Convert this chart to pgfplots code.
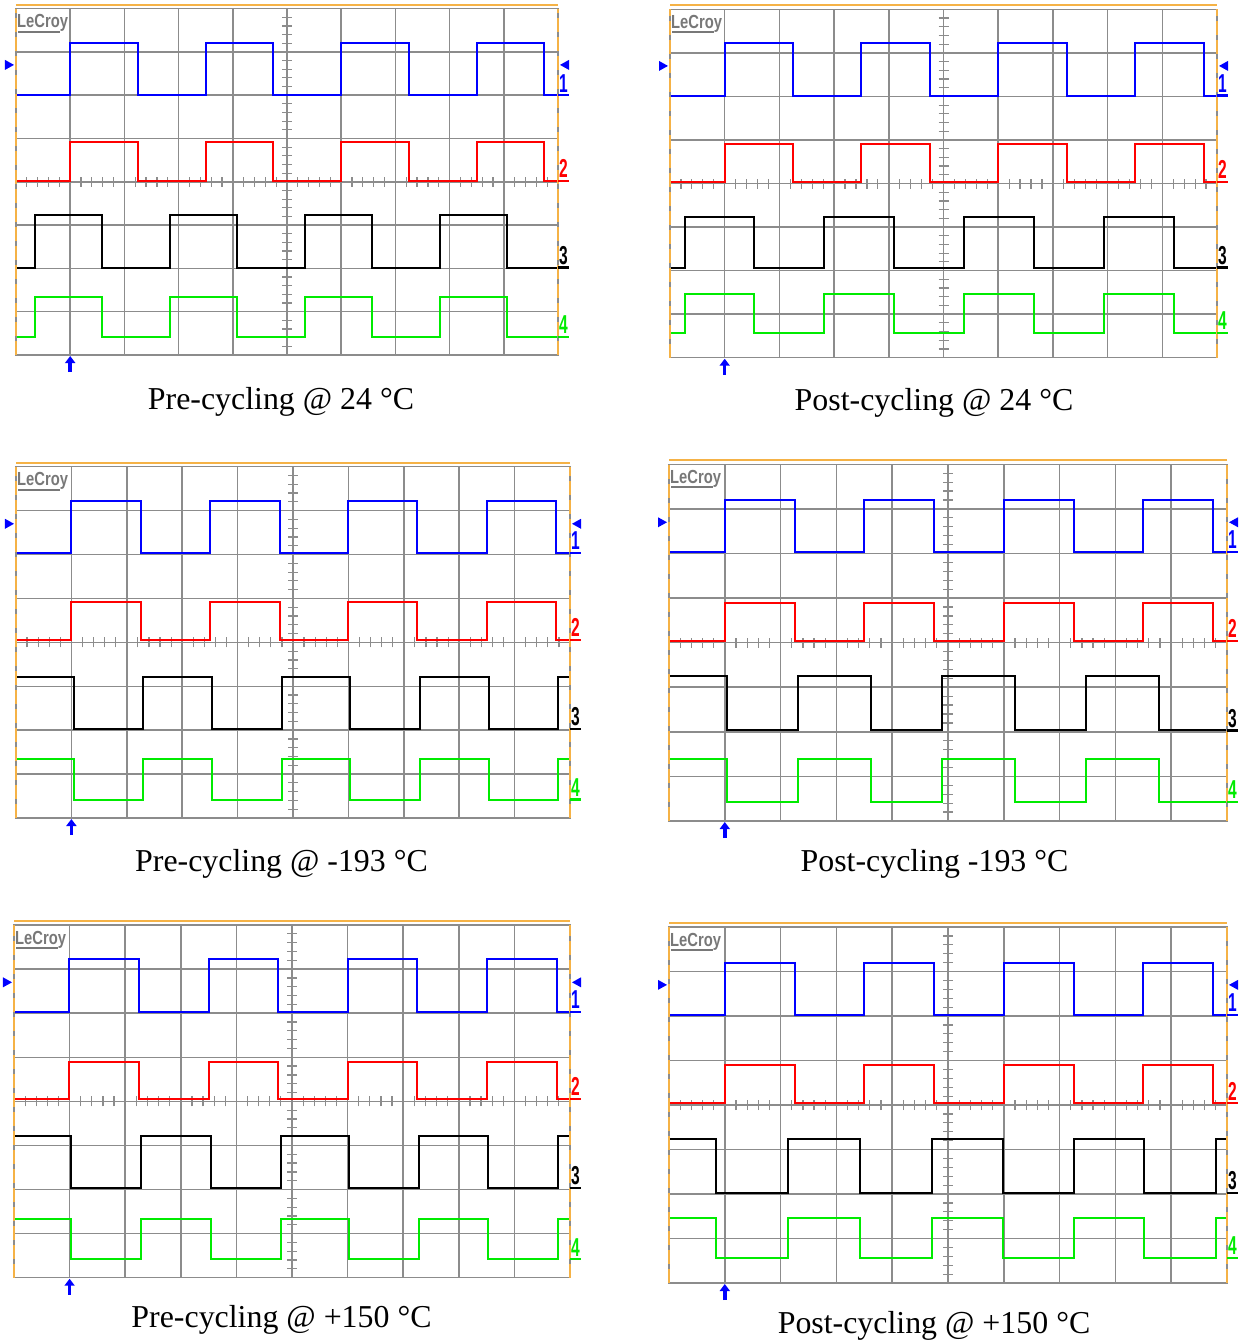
\documentclass[border=0pt]{standalone}
\usepackage{fontspec}
\setmainfont{Liberation Serif}
\newfontfamily\scopefont{Liberation Sans}
\usepackage{pgfplots}
\pgfplotsset{compat=1.18}
\usetikzlibrary{arrows.meta}

\definecolor{gridgray}{RGB}{140,140,140}
\definecolor{logogray}{RGB}{120,120,120}
\definecolor{edgeorange}{RGB}{245,178,70}
\definecolor{chblue}{RGB}{0,0,255}
\definecolor{chred}{RGB}{255,0,0}
\definecolor{chgreen}{RGB}{0,235,0}

\pgfplotsset{
  scope/.style={
    scale only axis, clip=false, anchor=south west,
    xmin=-5, xmax=5, ymin=-4, ymax=4,
    axis lines=center,
    axis line style={draw=gridgray, line width=1.5bp, -},
    inner axis line style={-},
    xtick={-5,-4.8,...,5.01}, ytick={-4,-3.8,...,4.01},
    minor xtick={-4,-3,...,4}, minor ytick={-3,-2,...,3},
    grid=minor, minor grid style={draw=gridgray, line width=1.5bp},
    major tick length=10bp, minor tick length=0pt,
    tick align=center, tick style={draw=gridgray, line width=1.2bp},
    xticklabels={}, yticklabels={},
  },
  trace/.style={const plot, line width=2bp, mark=none},
}

% frame, logo, channel markers and trigger arrow of one screen
% #1..#4: ground levels of channels 1..4
\newcommand{\scopedeco}[4]{%
  \draw[gridgray, line width=1.5bp] (axis cs:-5,-4) rectangle (axis cs:5,4);
  \draw[edgeorange, line width=1.6bp, dash pattern=on 14bp off 5bp] (axis cs:-5,-4) -- (axis cs:-5,4);
  \draw[edgeorange, line width=1.6bp, dash pattern=on 14bp off 5bp] (axis cs:5,-4) -- (axis cs:5,4);
  \draw[edgeorange, line width=2bp] ([yshift=4bp]axis cs:-5,4) -- ([yshift=4bp]axis cs:5,4);
  \node[anchor=base west, inner sep=0pt, text=logogray, xscale=0.78]
    at ([xshift=1bp,yshift=-19bp]axis cs:-5,4) {\scopefont\bfseries\fontsize{19}{19}\selectfont LeCroy};
  \draw[logogray, line width=2.2bp] ([xshift=2bp,yshift=-23bp]axis cs:-5,4) -- ([xshift=44bp,yshift=-23bp]axis cs:-5,4);
  \fill[chblue] ([xshift=-11bp,yshift=5bp]axis cs:-5,2.7) -- ++(9bp,-5bp) -- ++(-9bp,-5bp) -- cycle;
  \fill[chblue] ([xshift=11bp,yshift=5bp]axis cs:5,2.7) -- ++(-9bp,-5bp) -- ++(9bp,-5bp) -- cycle;
  \draw[chblue, line width=2.2bp] (axis cs:5,#1) -- ([xshift=11bp]axis cs:5,#1);
  \draw[chred, line width=2.2bp] (axis cs:5,#2) -- ([xshift=11bp]axis cs:5,#2);
  \draw[black, line width=2.2bp] (axis cs:5,#3) -- ([xshift=11bp]axis cs:5,#3);
  \draw[chgreen, line width=2.2bp] (axis cs:5,#4) -- ([xshift=11bp]axis cs:5,#4);
  \node[anchor=south west, inner sep=0pt, text=chblue, xscale=0.6]
    at ([xshift=1bp,yshift=3bp]axis cs:5,#1) {\scopefont\bfseries\fontsize{26}{26}\selectfont 1};
  \node[anchor=south west, inner sep=0pt, text=chred, xscale=0.6]
    at ([xshift=1bp,yshift=3bp]axis cs:5,#2) {\scopefont\bfseries\fontsize{26}{26}\selectfont 2};
  \node[anchor=south west, inner sep=0pt, text=black, xscale=0.6]
    at ([xshift=1bp,yshift=3bp]axis cs:5,#3) {\scopefont\bfseries\fontsize{26}{26}\selectfont 3};
  \node[anchor=south west, inner sep=0pt, text=chgreen, xscale=0.6]
    at ([xshift=1bp,yshift=3bp]axis cs:5,#4) {\scopefont\bfseries\fontsize{26}{26}\selectfont 4};
  \draw[chblue, line width=3.5bp, -{Triangle[length=7bp,width=10bp]}]
    ([yshift=-17bp]axis cs:-4,-4) -- ([yshift=-1bp]axis cs:-4,-4);
}

\begin{document}
\begin{tikzpicture}
\useasboundingbox (0,0) rectangle (1243bp,-1341bp);

% Pre-cycling @ 24 C
\begin{axis}[scope, at={(16bp,-355bp)}, width=542bp, height=346.4bp]
\addplot[trace, chblue] coordinates {(-5,2.0)(-4,3.2)(-2.75,2.0)(-1.5,3.2)(-0.25,2.0)(1,3.2)(2.25,2.0)(3.5,3.2)(4.75,2.0)(5,2.0)};
\addplot[trace, chred] coordinates {(-5,0.02)(-4,0.92)(-2.75,0.02)(-1.5,0.92)(-0.25,0.02)(1,0.92)(2.25,0.02)(3.5,0.92)(4.75,0.02)(5,0.02)};
\addplot[trace, black] coordinates {(-5,-1.98)(-4.65,-0.77)(-3.41,-1.98)(-2.16,-0.77)(-0.92,-1.98)(0.33,-0.77)(1.57,-1.98)(2.82,-0.77)(4.06,-1.98)(5,-1.98)};
\addplot[trace, chgreen] coordinates {(-5,-3.58)(-4.65,-2.65)(-3.41,-3.58)(-2.16,-2.65)(-0.92,-3.58)(0.33,-2.65)(1.57,-3.58)(2.82,-2.65)(4.06,-3.58)(5,-3.58)};
\scopedeco{2.0}{0.02}{-1.98}{-3.58}
\end{axis}

% Post-cycling @ 24 C
\begin{axis}[scope, at={(670bp,-357.7bp)}, width=547bp, height=348.4bp]
\addplot[trace, chblue] coordinates {(-5,2.02)(-4,3.22)(-2.75,2.02)(-1.5,3.22)(-0.24,2.02)(1,3.22)(2.26,2.02)(3.5,3.22)(4.76,2.02)(5,2.02)};
\addplot[trace, chred] coordinates {(-5,0.04)(-4,0.91)(-2.75,0.04)(-1.5,0.91)(-0.24,0.04)(1,0.91)(2.26,0.04)(3.5,0.91)(4.76,0.04)(5,0.04)};
\addplot[trace, black] coordinates {(-5,-1.93)(-4.73,-0.76)(-3.46,-1.93)(-2.18,-0.76)(-0.90,-1.93)(0.38,-0.76)(1.65,-1.93)(2.94,-0.76)(4.22,-1.93)(5,-1.93)};
\addplot[trace, chgreen] coordinates {(-5,-3.43)(-4.73,-2.54)(-3.46,-3.43)(-2.18,-2.54)(-0.90,-3.43)(0.38,-2.54)(1.65,-3.43)(2.94,-2.54)(4.22,-3.43)(5,-3.43)};
\scopedeco{2.02}{0.04}{-1.93}{-3.43}
\end{axis}

% Pre-cycling @ -193 C
\begin{axis}[scope, at={(16bp,-818bp)}, width=554bp, height=351.3bp]
\addplot[trace, chblue] coordinates {(-5,2.04)(-4,3.23)(-2.75,2.04)(-1.5,3.23)(-0.24,2.04)(1,3.23)(2.24,2.04)(3.5,3.23)(4.74,2.04)(5,2.04)};
\addplot[trace, chred] coordinates {(-5,0.05)(-4,0.91)(-2.75,0.05)(-1.5,0.91)(-0.24,0.05)(1,0.91)(2.24,0.05)(3.5,0.91)(4.74,0.05)(5,0.05)};
\addplot[trace, black] coordinates {(-5,-0.79)(-3.96,-1.97)(-2.71,-0.79)(-1.46,-1.97)(-0.19,-0.79)(1.03,-1.97)(2.29,-0.79)(3.53,-1.97)(4.78,-0.79)(5,-0.79)};
\addplot[trace, chgreen] coordinates {(-5,-2.65)(-3.96,-3.58)(-2.71,-2.65)(-1.46,-3.58)(-0.19,-2.65)(1.03,-3.58)(2.29,-2.65)(3.53,-3.58)(4.78,-2.65)(5,-2.65)};
\scopedeco{2.04}{0.05}{-1.97}{-3.58}
\end{axis}

% Post-cycling -193 C
\begin{axis}[scope, at={(669bp,-821bp)}, width=558bp, height=356.7bp]
\addplot[trace, chblue] coordinates {(-5,2.03)(-4,3.21)(-2.75,2.03)(-1.5,3.21)(-0.25,2.03)(1,3.21)(2.25,2.03)(3.5,3.21)(4.75,2.03)(5,2.03)};
\addplot[trace, chred] coordinates {(-5,0.04)(-4,0.9)(-2.75,0.04)(-1.5,0.9)(-0.25,0.04)(1,0.9)(2.25,0.04)(3.5,0.9)(4.75,0.04)(5,0.04)};
\addplot[trace, black] coordinates {(-5,-0.75)(-3.96,-1.97)(-2.68,-0.75)(-1.38,-1.97)(-0.10,-0.75)(1.2,-1.97)(2.48,-0.75)(3.78,-1.97)(5,-1.97)};
\addplot[trace, chgreen] coordinates {(-5,-2.62)(-3.96,-3.57)(-2.68,-2.62)(-1.38,-3.57)(-0.10,-2.62)(1.2,-3.57)(2.48,-2.62)(3.78,-3.57)(5,-3.57)};
\scopedeco{2.03}{0.04}{-1.97}{-3.57}
\end{axis}

% Pre-cycling @ +150 C
\begin{axis}[scope, at={(14bp,-1277.7bp)}, width=556bp, height=352.7bp]
\addplot[trace, chblue] coordinates {(-5,2.03)(-4.01,3.23)(-2.76,2.03)(-1.5,3.23)(-0.25,2.03)(1,3.23)(2.25,2.03)(3.5,3.23)(4.76,2.03)(5,2.03)};
\addplot[trace, chred] coordinates {(-5,0.06)(-4.01,0.9)(-2.76,0.06)(-1.5,0.9)(-0.25,0.06)(1,0.9)(2.25,0.06)(3.5,0.9)(4.76,0.06)(5,0.06)};
\addplot[trace, black] coordinates {(-5,-0.78)(-3.97,-1.97)(-2.71,-0.78)(-1.46,-1.97)(-0.2,-0.78)(1.03,-1.97)(2.28,-0.78)(3.53,-1.97)(4.78,-0.78)(5,-0.78)};
\addplot[trace, chgreen] coordinates {(-5,-2.66)(-3.97,-3.58)(-2.71,-2.66)(-1.46,-3.58)(-0.2,-2.66)(1.03,-3.58)(2.28,-2.66)(3.53,-3.58)(4.78,-2.66)(5,-2.66)};
\scopedeco{2.03}{0.06}{-1.97}{-3.58}
\end{axis}

% Post-cycling @ +150 C
\begin{axis}[scope, at={(669bp,-1283bp)}, width=558bp, height=356bp]
\addplot[trace, chblue] coordinates {(-5,2.02)(-4,3.2)(-2.75,2.02)(-1.5,3.2)(-0.25,2.02)(1,3.2)(2.25,2.02)(3.5,3.2)(4.75,2.02)(5,2.02)};
\addplot[trace, chred] coordinates {(-5,0.04)(-4,0.91)(-2.75,0.04)(-1.5,0.91)(-0.25,0.04)(1,0.91)(2.25,0.04)(3.5,0.91)(4.75,0.04)(5,0.04)};
\addplot[trace, black] coordinates {(-5,-0.76)(-4.16,-1.97)(-2.87,-0.76)(-1.58,-1.97)(-0.29,-0.76)(0.98,-1.97)(2.25,-0.76)(3.52,-1.97)(4.81,-0.76)(5,-0.76)};
\addplot[trace, chgreen] coordinates {(-5,-2.53)(-4.16,-3.43)(-2.87,-2.53)(-1.58,-3.43)(-0.29,-2.53)(0.98,-3.43)(2.25,-2.53)(3.52,-3.43)(4.81,-2.53)(5,-2.53)};
\scopedeco{2.02}{0.04}{-1.97}{-3.43}
\end{axis}

\begin{scope}[every node/.style={anchor=base, font=\fontsize{32}{38}\selectfont}]
\node at (281bp,-409bp) {Pre-cycling @ 24 °C};
\node at (934bp,-410bp) {Post-cycling @ 24 °C};
\node at (281.5bp,-871bp) {Pre-cycling @ -193 °C};
\node at (934.5bp,-871bp) {Post-cycling -193 °C};
\node at (281.5bp,-1327bp) {Pre-cycling @ +150 °C};
\node at (934bp,-1333bp) {Post-cycling @ +150 °C};
\end{scope}
\end{tikzpicture}
\end{document}
